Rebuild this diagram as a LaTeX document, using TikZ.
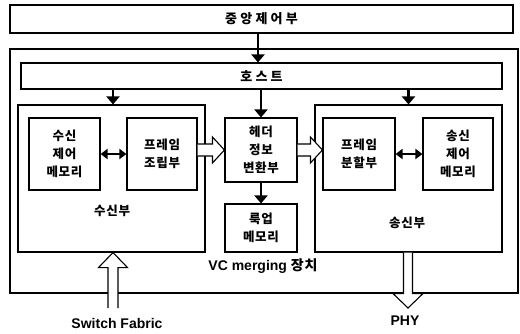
\documentclass[tikz,border=0pt]{standalone}
\usepackage{fontspec}
\setmainfont{Liberation Sans}
\newfontfamily\kr{Noto Sans CJK KR}[LetterSpace=6]
\newfontfamily\krw{Noto Sans CJK KR}[LetterSpace=25]
\usetikzlibrary{arrows.meta,calc}
\begin{document}
\begin{tikzpicture}[x=1pt,y=-1pt,
  box/.style={draw,line width=1.1pt,inner sep=0pt,fill=white},
  ktext/.style={font=\kr\bfseries\fontsize{12.5}{18}\selectfont,align=center},
  thick arrow/.style={line width=2.3pt,-{Triangle[length=8pt,width=13pt]}},
  dbl arrow/.style={line width=2.2pt,{Triangle[length=7pt,width=10pt]}-{Triangle[length=7pt,width=10pt]}},
  hollow/.style={draw,fill=white,line width=1.1pt,line join=miter},
  lbl/.style={font=\bfseries\fontsize{14}{16}\selectfont}]
\useasboundingbox (0,0) rectangle (520,333);
% outer device box
\node[box,minimum width=508pt,minimum height=244pt] (outer) at (264,171) {};
% top control box
\node[box,minimum width=503pt,minimum height=28pt,font=\krw\bfseries\fontsize{13}{15}\selectfont] (ctrl) at (261.5,19) {중앙제어부};
% host
\node[box,minimum width=481pt,minimum height=26pt,font=\krw\bfseries\fontsize{13}{15}\selectfont] (host) at (261.5,76) {호스트};
% receive & transmit units
\node[box,minimum width=187pt,minimum height=147pt] (recv) at (111.5,178.5) {};
\node[box,minimum width=187pt,minimum height=147pt] (xmit) at (408.5,178.5) {};
\node[ktext] (recvlbl) at (112,211) {수신부};
\node[ktext] (xmitlbl) at (407,223) {송신부};
% inner boxes
\node[box,ktext,minimum width=71pt,minimum height=72pt] (rmem) at (64.5,154) {수신\\제어\\메모리};
\node[box,ktext,minimum width=70pt,minimum height=72pt] (asm) at (162,154) {프레임\\조립부};
\node[box,ktext,minimum width=72pt,minimum height=64pt] (hdr) at (261,150) {헤더\\정보\\변환부};
\node[box,ktext,minimum width=72pt,minimum height=48pt] (lut) at (261,228) {룩업\\메모리};
\node[box,ktext,minimum width=72pt,minimum height=72pt] (split) at (359,154) {프레임\\분할부};
\node[box,ktext,minimum width=70pt,minimum height=72pt] (tmem) at (458,154) {송신\\제어\\메모리};
% labels
\node[lbl] (vc) at (263,266) {VC merging {\kr 장치}};
\coordinate (sf) at (113,308);
\coordinate (phy) at (408,308);
\node[lbl] (sflbl) at (117,323) {Switch Fabric};
\node[lbl] (phylbl) at (405,321) {PHY};
% solid arrows
\draw[thick arrow] (ctrl.south -| 258,0) -- (host.north -| 258,0);
\draw[thick arrow] ($(host.south -| recv.north)+(1.5,0)$) -- ($(recv.north)+(1.5,0)$);
\draw[thick arrow] (host.south -| hdr.north) -- (hdr.north);
\draw[thick arrow] (host.south -| xmit.north) -- (xmit.north);
\draw[thick arrow] (hdr.south) -- (lut.north);
\draw[dbl arrow] (rmem.east) -- (asm.west);
\draw[dbl arrow] (split.east) -- (tmem.west);
% hollow arrows
\filldraw[hollow] ($(asm.east|-hdr.west)+(0,-6)$) -- ($(hdr.west)+(-12,-6)$) -- ($(hdr.west)+(-12,-13)$) -- (hdr.west) -- ($(hdr.west)+(-12,13)$) -- ($(hdr.west)+(-12,6)$) -- ($(asm.east|-hdr.west)+(0,6)$);
\filldraw[hollow] ($(hdr.east)+(0,-6)$) -- ($(split.west|-hdr.east)+(-12,-6)$) -- ($(split.west|-hdr.east)+(-12,-13)$) -- (split.west|-hdr.east) -- ($(split.west|-hdr.east)+(-12,13)$) -- ($(split.west|-hdr.east)+(-12,6)$) -- ($(hdr.east)+(0,6)$);
% Switch Fabric input arrow
\filldraw[hollow] ($(sf)+(-5,0)$) -- ($(sf|-outer.south)+(-5,-26)$) -- ($(sf|-outer.south)+(-14.5,-26)$) -- (sf|-recv.south) -- ($(sf|-outer.south)+(14.5,-26)$) -- ($(sf|-outer.south)+(5,-26)$) -- ($(sf)+(5,0)$);
% PHY output arrow
\filldraw[hollow] ($(phy|-xmit.south)+(-4.5,0)$) -- ($(phy|-outer.south)+(-4.5,0)$) -- ($(phy|-outer.south)+(-15,0)$) -- (phy) -- ($(phy|-outer.south)+(15,0)$) -- ($(phy|-outer.south)+(4.5,0)$) -- ($(phy|-xmit.south)+(4.5,0)$);
\end{tikzpicture}
\end{document}
